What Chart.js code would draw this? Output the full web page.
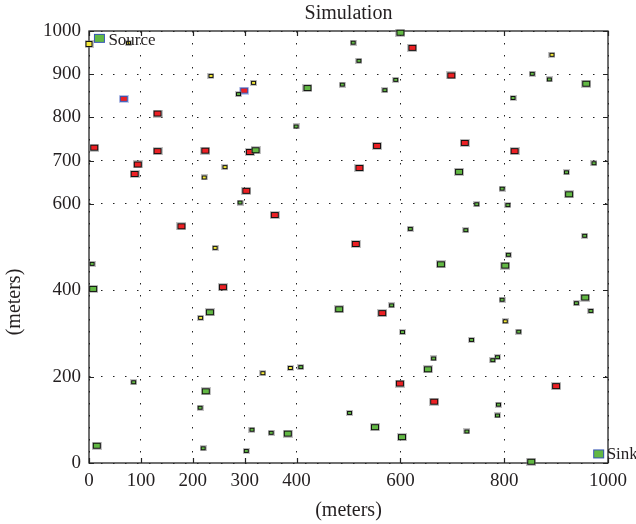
<!DOCTYPE html>
<html>
<head>
<meta charset="utf-8">
<script src="https://cdn.jsdelivr.net/npm/chart.js@4/dist/chart.umd.min.js"></script>
<style>
  html, body { margin: 0; padding: 0; background: #fff; }
  #wrap { width: 636px; height: 524px; }
</style>
</head>
<body>
<div id="wrap"><canvas id="sim"></canvas></div>
<script>
// tick values on both axes (meters)
var xTicks = [0, 100, 200, 300, 400, 600, 800, 1000];
var yTicks = [0, 200, 400, 600, 700, 800, 900, 1000];

// node positions [x, y] in meters
var bigGreen = [[600, 996], [321, 724], [421, 868], [958, 878], [713, 674], [925, 622], [678, 460],
    [802, 457], [956, 383], [8, 403], [233, 349], [225, 166], [15, 40], [482, 356], [653, 217],
    [551, 83], [383, 68], [603, 60], [852, 3]];
var smallGreen = [[509, 973], [520, 931], [488, 876], [591, 887], [570, 863], [399, 779], [288, 854],
    [854, 901], [887, 888], [817, 845], [291, 603], [6, 461], [619, 542], [973, 694], [920, 673],
    [796, 635], [747, 599], [807, 597], [726, 539], [955, 526], [808, 482], [86, 187], [214, 128],
    [314, 77], [220, 34], [303, 28], [583, 365], [604, 303], [664, 242], [408, 222], [502, 116],
    [351, 70], [796, 378], [939, 370], [967, 352], [828, 304], [737, 285], [787, 245], [778, 238],
    [789, 135], [787, 110], [728, 73]];
var redNodes = [[132, 809], [10, 730], [132, 722], [224, 723], [310, 720], [623, 961], [555, 734],
    [698, 897], [724, 741], [820, 722], [94, 691], [88, 669], [303, 630], [178, 548], [258, 407],
    [521, 683], [358, 574], [514, 507], [565, 347], [599, 184], [665, 142], [900, 178]];
var redBlue = [[67, 843], [299, 862]];
var yellowNodes = [[76, 972], [235, 896], [317, 880], [892, 945], [262, 685], [222, 661], [243, 498],
    [215, 336], [335, 208], [388, 220], [802, 328]];
var bigYellow = [[0, 970]];
var source = [[20, 983]];
var sink = [[982, 21]];

var SERIF = "'Liberation Serif', 'DejaVu Serif', serif";
var INK = '#231f20';

function marker(w, h, fill, edge, halo) {
    var c = document.createElement('canvas');
    c.width = w + 2;
    c.height = h + 2;
    var g = c.getContext('2d');
    if (halo) {
        g.fillStyle = halo;
        g.fillRect(0, 0, w + 2, h + 2);
    }
    g.fillStyle = edge;
    g.fillRect(1, 1, w, h);
    g.fillStyle = fill;
    g.fillRect(2, 2, w - 2, h - 2);
    return c;
}

var GREEN = '#62b844', RED = '#ec2024', YELLOW = '#f4e93a', BLUE = '#3656b4', HALO = 'rgba(120,120,120,0.45)';

function pts(list) {
    return list.map(function (p) { return {x: p[0], y: p[1]}; });
}

function set(label, list, style) {
    return {label: label, data: pts(list), pointStyle: style, clip: false, showLine: false};
}

var frame = {
    id: 'frame',
    beforeDatasetsDraw: function (chart) {
        var a = chart.chartArea, ctx = chart.ctx;
        var xs = chart.scales.x, ys = chart.scales.y;
        ctx.save();
        ctx.strokeStyle = '#222';
        ctx.lineWidth = 1.3;
        ctx.strokeRect(a.left, a.top, a.right - a.left, a.bottom - a.top);
        ctx.lineWidth = 1.2;
        ctx.beginPath();
        xTicks.forEach(function (v) {
            var px = Math.round(xs.getPixelForValue(v)) + 0.5;
            ctx.moveTo(px, a.bottom); ctx.lineTo(px, a.bottom - 5);
            ctx.moveTo(px, a.top); ctx.lineTo(px, a.top + 5);
        });
        yTicks.forEach(function (v) {
            var py = Math.round(ys.getPixelForValue(v)) + 0.5;
            ctx.moveTo(a.left, py); ctx.lineTo(a.left + 5, py);
            ctx.moveTo(a.right, py); ctx.lineTo(a.right - 5, py);
        });
        ctx.stroke();
        ctx.restore();
    },
    afterDraw: function (chart) {
        var a = chart.chartArea, ctx = chart.ctx;
        var xs = chart.scales.x, ys = chart.scales.y;
        var mid = (a.left + a.right) / 2;
        ctx.save();
        ctx.fillStyle = INK;
        ctx.font = '20px ' + SERIF;
        ctx.textAlign = 'center';
        ctx.textBaseline = 'middle';
        ctx.fillText('Simulation', mid, 14);
        ctx.fillText('(meters)', mid, 511);
        ctx.translate(15, 302);
        ctx.rotate(-Math.PI / 2);
        ctx.fillText('(meters)', 0, 0);
        ctx.restore();

        ctx.save();
        ctx.fillStyle = INK;
        ctx.font = '17px ' + SERIF;
        ctx.textAlign = 'left';
        ctx.textBaseline = 'middle';
        ctx.fillText('Source', xs.getPixelForValue(source[0][0]) + 9, ys.getPixelForValue(source[0][1]) + 2);
        ctx.fillText('Sink', xs.getPixelForValue(sink[0][0]) + 8, ys.getPixelForValue(sink[0][1]) + 1);
        ctx.restore();
    }
};

function fixedTicks(list) {
    return function (scale) {
        scale.ticks = list.map(function (v) { return {value: v}; });
    };
}

new Chart(document.getElementById('sim'), {
    type: 'scatter',
    data: {
        datasets: [
            set('Green', bigGreen, marker(8, 6, GREEN, '#111', HALO)),
            set('Green small', smallGreen, marker(5, 4, GREEN, '#111', HALO)),
            set('Red', redNodes, marker(8, 6, RED, '#111', HALO)),
            set('Red blue', redBlue, marker(8, 6, RED, BLUE, 'rgba(90,110,200,0.35)')),
            set('Yellow', yellowNodes, marker(5, 4, YELLOW, '#111', HALO)),
            set('Yellow big', bigYellow, marker(7, 6, YELLOW, '#111', HALO)),
            set('Source', source, marker(11, 9, GREEN, BLUE, null)),
            set('Sink', sink, marker(11, 9, GREEN, BLUE, null))
        ]
    },
    options: {
        responsive: true,
        maintainAspectRatio: false,
        animation: false,
        events: [],
        layout: {padding: {left: 0, right: 28, top: 31, bottom: 0}},
        plugins: {
            legend: {display: false},
            tooltip: {enabled: false},
            title: {display: false}
        },
        scales: {
            x: {
                type: 'linear',
                min: 0,
                max: 1000,
                afterBuildTicks: fixedTicks(xTicks),
                afterFit: function (s) { s.height = 61; },
                grid: {color: '#222', lineWidth: 1, drawTicks: false},
                border: {display: false, dash: [1.5, 10.5]},
                ticks: {
                    color: INK,
                    padding: 7,
                    maxRotation: 0,
                    autoSkip: false,
                    font: {family: SERIF, size: 19},
                    callback: function (v) { return String(v); }
                }
            },
            y: {
                type: 'linear',
                min: 0,
                max: 1000,
                afterBuildTicks: fixedTicks(yTicks),
                afterFit: function (s) { s.width = 89; },
                grid: {color: '#222', lineWidth: 1, drawTicks: false},
                border: {display: false, dash: [1.5, 10.5]},
                ticks: {
                    color: INK,
                    padding: 8,
                    autoSkip: false,
                    font: {family: SERIF, size: 19},
                    callback: function (v) { return String(v); }
                }
            }
        }
    },
    plugins: [frame]
});
</script>
</body>
</html>
